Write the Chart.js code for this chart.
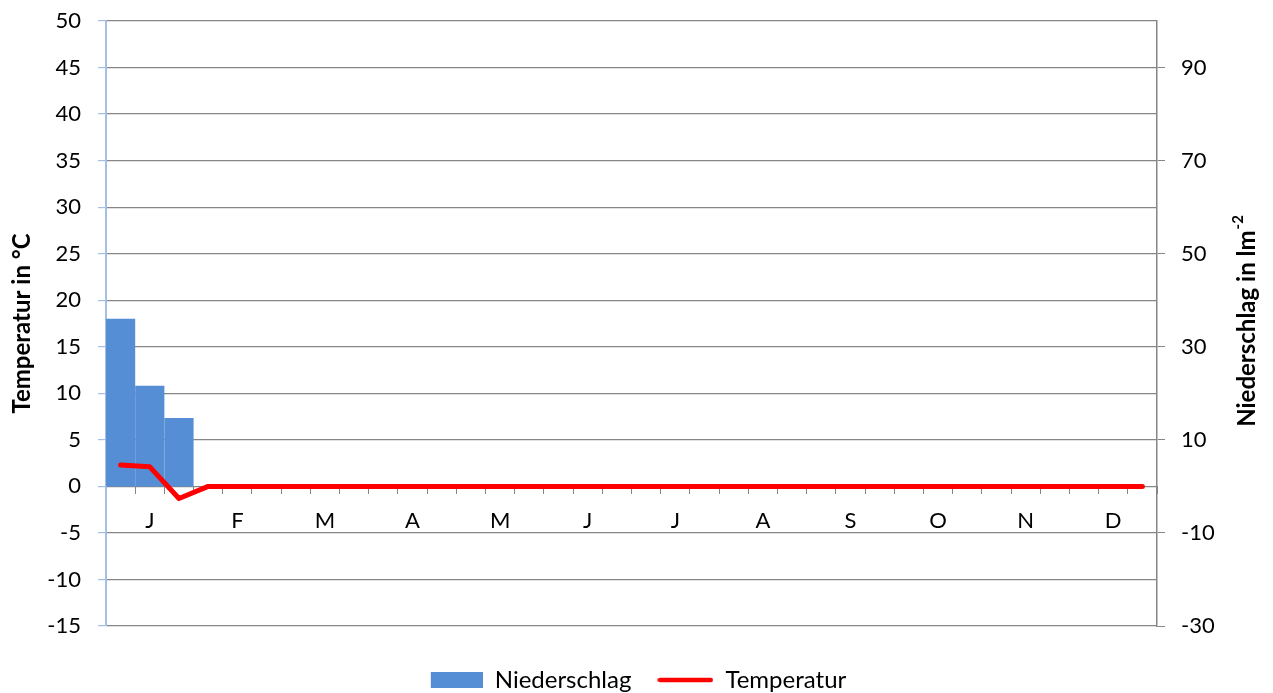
<!DOCTYPE html>
<html lang="de">
<head>
<meta charset="utf-8">
<title>Klimadiagramm</title>
<script src="https://cdn.jsdelivr.net/npm/chart.js@4.4.1/dist/chart.umd.min.js"></script>
<style>
  html, body { margin: 0; padding: 0; background: #ffffff; }
  #wrap { width: 1273px; height: 693px; position: relative; }
</style>
</head>
<body>
<div id="wrap"><canvas id="klima"></canvas></div>
<script>
'use strict';

// ***** DATA *****
const monthLetters = ['J', 'F', 'M', 'A', 'M', 'J', 'J', 'A', 'S', 'O', 'N', 'D'];
const decadeNames = ['I', 'II', 'III'];

// Niederschlag per Dekade (l m-2), rechte Achse
const niederschlag = [
  36, 21.6, 14.7,  0, 0, 0,  0, 0, 0,  0, 0, 0,
  0, 0, 0,  0, 0, 0,  0, 0, 0,  0, 0, 0,
  0, 0, 0,  0, 0, 0,  0, 0, 0,  0, 0, 0
];

// Temperatur per Dekade (°C), linke Achse
const temperatur = [
  2.3, 2.1, -1.3,  0, 0, 0,  0, 0, 0,  0, 0, 0,
  0, 0, 0,  0, 0, 0,  0, 0, 0,  0, 0, 0,
  0, 0, 0,  0, 0, 0,  0, 0, 0,  0, 0, 0
];

const tempTicks = [-15, -10, -5, 0, 5, 10, 15, 20, 25, 30, 35, 40, 45, 50];
const rainTicks = [-30, -10, 10, 30, 50, 70, 90];

// ***** STYLE *****
const FONT = 'Lato';
const BAR_BLUE = '#558ed5';
const LINE_RED = '#ff0000';
const GRID_GREY = '#868686';
const AXIS_BLUE = '#a3bfe8';

// category labels: three decades per month
let categories = [];
for (let m = 0; m < monthLetters.length; m++) {
  for (let d = 0; d < decadeNames.length; d++) {
    categories.push(monthLetters[m] + ' ' + decadeNames[d]);
  }
}

// **** LEGEND ICONS ****
function makeIcon(w, h, draw) {
  let c = document.createElement('canvas');
  c.width = w;
  c.height = h;
  draw(c.getContext('2d'));
  return c;
}

const legendIcons = [
  makeIcon(56, 16, function (g) {
    g.fillStyle = BAR_BLUE;
    g.fillRect(4, 0, 52, 16);
  }),
  makeIcon(56, 6, function (g) {
    g.strokeStyle = LINE_RED;
    g.lineWidth = 4.5;
    g.lineCap = 'round';
    g.beginPath();
    g.moveTo(2.5, 3);
    g.lineTo(53.5, 3);
    g.stroke();
  })
];

// **** RIGHT AXIS TITLE (reads bottom to top) ****
const rightTitle = {
  id: 'rightTitle',
  afterDraw(chart) {
    const ctx = chart.ctx;
    const area = chart.chartArea;
    const main = 'Niederschlag in lm';
    const sup = '-2';
    ctx.save();
    ctx.font = 'bold 24px ' + FONT;
    const mainW = ctx.measureText(main).width;
    ctx.font = 'bold 15px ' + FONT;
    const supW = ctx.measureText(sup).width;
    ctx.translate(chart.width - 26, (area.top + area.bottom) / 2 - 2);
    ctx.rotate(-Math.PI / 2);
    ctx.fillStyle = '#000000';
    ctx.textBaseline = 'middle';
    ctx.textAlign = 'left';
    const startX = -(mainW + supW) / 2;
    ctx.font = 'bold 24px ' + FONT;
    ctx.fillText(main, startX, 0);
    ctx.font = 'bold 15px ' + FONT;
    ctx.fillText(sup, startX + mainW + 1, -9);
    ctx.restore();
  }
};

// keep the tick padding from pushing the plot area inwards
function fixAxis(width) {
  return function (axis) {
    axis.width = width;
    axis.paddingTop = 0;
    axis.paddingBottom = 0;
  };
}

// **** CHART ****
let ctx = document.getElementById('klima').getContext('2d');

let chartObject = {
  type: 'bar',
  data: {
    labels: categories,
    datasets: [{
      label: 'Niederschlag',
      data: niederschlag,
      yAxisID: 'y2',
      backgroundColor: BAR_BLUE,
      borderWidth: 0,
      inflateAmount: 0,
      barPercentage: 1,
      categoryPercentage: 1,
      order: 2
    },
    {
      type: 'line',
      label: 'Temperatur',
      data: temperatur,
      yAxisID: 'y',
      borderColor: LINE_RED,
      backgroundColor: LINE_RED,
      borderWidth: 5,
      borderCapStyle: 'round',
      borderJoinStyle: 'round',
      pointRadius: 0,
      tension: 0,
      fill: false,
      order: 1
    }
    ]
  },
  options: {
    responsive: true,
    maintainAspectRatio: false,
    animation: false,
    layout: {
      padding: { top: 21, left: 0, right: 0, bottom: -9 }
    },
    plugins: {
      tooltip: { enabled: false },
      legend: {
        position: 'bottom',
        title: {
          display: true,
          text: ' ',
          font: { size: 10 },
          padding: { top: 4, bottom: 0 }
        },
        labels: {
          usePointStyle: true,
          pointStyleWidth: 56,
          padding: 26,
          color: '#000000',
          font: { family: FONT, size: 24 },
          sort: function (a, b) { return a.datasetIndex - b.datasetIndex; },
          generateLabels: function (chart) {
            let items = Chart.defaults.plugins.legend.labels.generateLabels(chart);
            items.forEach(function (item) {
              item.pointStyle = legendIcons[item.datasetIndex];
            });
            return items;
          }
        }
      }
    },
    scales: {
      x: {
        position: { y: 0 },
        offset: true,
        grid: {
          offset: true,
          drawOnChartArea: false,
          color: GRID_GREY,
          tickLength: 7
        },
        border: { display: true, color: GRID_GREY, width: 1 },
        ticks: {
          autoSkip: false,
          maxRotation: 0,
          padding: 14,
          color: '#000000',
          font: { family: FONT, size: 22 },
          callback: function (value, index) {
            return index % 3 === 1 ? monthLetters[Math.floor(index / 3)] : '';
          }
        }
      },
      y: {
        position: 'left',
        min: -15,
        max: 50,
        afterBuildTicks: function (axis) {
          axis.ticks = tempTicks.map(function (v) { return { value: v }; });
        },
        afterFit: fixAxis(106),
        grid: {
          color: GRID_GREY,
          tickColor: AXIS_BLUE,
          tickLength: 8,
          lineWidth: 1.2
        },
        border: { display: true, color: AXIS_BLUE, width: 2 },
        ticks: {
          padding: 17,
          color: '#000000',
          font: { family: FONT, size: 22 }
        },
        title: {
          display: true,
          text: 'Temperatur in °C',
          color: '#000000',
          font: { family: FONT, size: 24, weight: 'bold' },
          padding: { top: 8, bottom: 0 }
        }
      },
      y2: {
        position: 'right',
        min: -30,
        max: 100,
        afterBuildTicks: function (axis) {
          axis.ticks = rainTicks.map(function (v) { return { value: v }; });
        },
        afterFit: fixAxis(116),
        grid: {
          drawOnChartArea: false,
          color: GRID_GREY,
          tickLength: 8
        },
        border: { display: true, color: GRID_GREY, width: 1.5 },
        ticks: {
          padding: 16,
          color: '#000000',
          font: { family: FONT, size: 22 }
        }
      }
    }
  },
  plugins: [rightTitle]
};

new Chart(ctx, chartObject);
</script>
</body>
</html>
